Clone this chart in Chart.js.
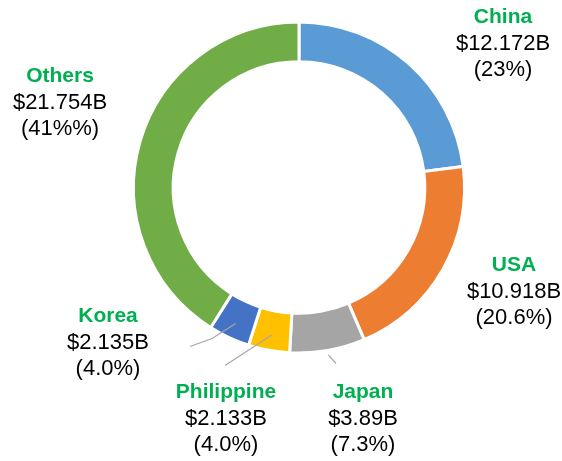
<!DOCTYPE html>
<html>
<head>
<meta charset="utf-8">
<script src="https://cdn.jsdelivr.net/npm/chart.js@4.4.0/dist/chart.umd.min.js"></script>
<style>
    html, body { margin: 0; padding: 0; background: #ffffff; }
    #wrap { position: relative; width: 562px; height: 461px; }
</style>
</head>
<body>
<div id="wrap"><canvas id="exportChart"></canvas></div>
<script>
const categories = ['China', 'USA', 'Japan', 'Philippine', 'Korea', 'Others'];
const values = [12.172, 10.918, 3.89, 2.133, 2.135, 21.754];
const valueLabels = ['$12.172B', '$10.918B', '$3.89B', '$2.133B', '$2.135B', '$21.754B'];
const percentLabels = ['(23%)', '(20.6%)', '(7.3%)', '(4.0%)', '(4.0%)', '(41%%)'];
const sliceColors = ['#5B9BD5', '#ED7D31', '#A5A5A5', '#FFC000', '#4472C4', '#70AD47'];

// label block centre, relative to the chart centre
const labelOffsets = [[204, -144], [215, 104], [64, 231], [-73, 231], [-191, 155], [-239, -85]];
// leader lines: start radius on the slice, then bend points relative to the centre
const leaders = {
    2: { r: 170, points: [[37, 176]] },
    3: { r: 150, points: [[-74, 178]] },
    4: { r: 150, points: [[-87, 151], [-109, 159]] }
};

const labelPlugin = {
    id: 'sliceLabels',
    afterDraw(chart) {
        const ctx = chart.ctx;
        const meta = chart.getDatasetMeta(0);
        meta.data.forEach((arc, i) => {
            const p = arc.getProps(['x', 'y', 'startAngle', 'endAngle'], true);
            const mid = (p.startAngle + p.endAngle) / 2;
            const lead = leaders[i];
            if (lead) {
                ctx.save();
                ctx.strokeStyle = '#A6A6A6';
                ctx.lineWidth = 1.2;
                ctx.beginPath();
                ctx.moveTo(p.x + Math.cos(mid) * lead.r, p.y + Math.sin(mid) * lead.r);
                lead.points.forEach(([dx, dy]) => ctx.lineTo(p.x + dx, p.y + dy));
                ctx.stroke();
                ctx.restore();
            }
            const cx = p.x + labelOffsets[i][0];
            const cy = p.y + labelOffsets[i][1];
            ctx.save();
            ctx.textAlign = 'center';
            ctx.textBaseline = 'middle';
            ctx.fillStyle = '#00B050';
            ctx.font = 'bold 21px "Liberation Sans", Arial, sans-serif';
            ctx.fillText(categories[i], cx, cy - 26);
            ctx.fillStyle = '#000000';
            ctx.font = '22px "Liberation Sans", Arial, sans-serif';
            ctx.fillText(valueLabels[i], cx, cy);
            ctx.fillText(percentLabels[i], cx, cy + 26);
            ctx.restore();
        });
    }
};

new Chart(document.getElementById('exportChart'), {
    type: 'doughnut',
    data: {
        labels: categories,
        datasets: [{
            data: values,
            backgroundColor: sliceColors,
            borderColor: '#ffffff',
            borderWidth: 3
        }]
    },
    options: {
        responsive: true,
        maintainAspectRatio: false,
        animation: false,
        cutout: '76%',
        layout: { padding: { left: 132, right: 96, top: 20, bottom: 106 } },
        plugins: {
            legend: { display: false },
            tooltip: { enabled: false }
        }
    },
    plugins: [labelPlugin]
});
</script>
</body>
</html>
